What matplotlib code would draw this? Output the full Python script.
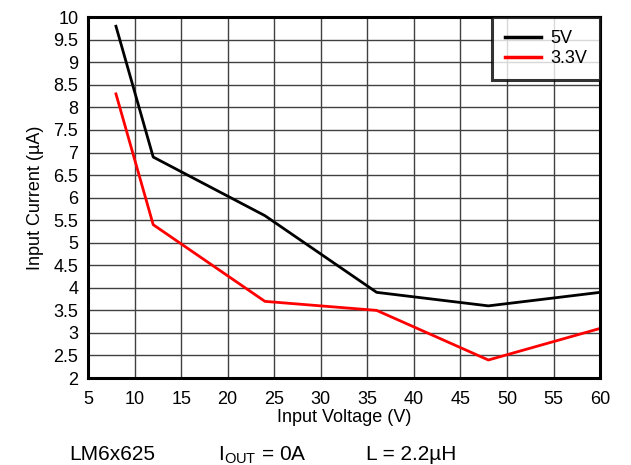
import matplotlib
matplotlib.use("Agg")
import matplotlib.pyplot as plt

plt.rcParams['font.family'] = ['Liberation Sans', 'DejaVu Sans']

vin = [8, 12, 24, 36, 48, 60]
iin_5v = [9.8, 6.9, 5.6, 3.9, 3.6, 3.9]
iin_3v3 = [8.3, 5.4, 3.7, 3.5, 2.4, 3.1]

fig = plt.figure(figsize=(6.31, 4.65), dpi=100)
ax = fig.add_axes([0.1395, 0.187, 0.8115, 0.776])

ax.plot(vin, iin_5v, color='black', lw=2, label='5V')
ax.plot(vin, iin_3v3, color='red', lw=2, label='3.3V')

ax.set_xlim(5, 60)
ax.set_ylim(2, 10)
ax.set_xticks(range(5, 61, 5))
yt = [2 + 0.5 * i for i in range(17)]
ax.set_yticks(yt)
ax.set_yticklabels([('%g' % v) for v in yt])
ax.grid(True, color='#404040', lw=1)
ax.tick_params(length=0, labelsize=13)
ax.tick_params(axis='y', pad=7)
ax.tick_params(axis='x', pad=9)
for s in ax.spines.values():
    s.set_linewidth(2.2)

ax.set_xlabel('Input Voltage (V)', fontsize=13, labelpad=1)
ax.set_ylabel('Input Current (µA)', fontsize=13, labelpad=7)

leg = ax.legend(loc='upper right', fontsize=13, frameon=True, fancybox=False,
                borderaxespad=0, handlelength=2.0, handletextpad=0.55,
                borderpad=0.7, labelspacing=0.2)
leg.get_frame().set_edgecolor('black')
leg.get_frame().set_linewidth(2.2)
for h in leg.legend_handles:
    h.set_linewidth(2.5)

fig.text(0.11, 0.01, 'LM6x625', fontsize=15)
fig.text(0.345, 0.01, r'I$_{\mathregular{OUT}}$ = 0A', fontsize=15)
fig.text(0.58, 0.01, 'L = 2.2µH', fontsize=15)

fig.savefig('out.png', dpi=100)
